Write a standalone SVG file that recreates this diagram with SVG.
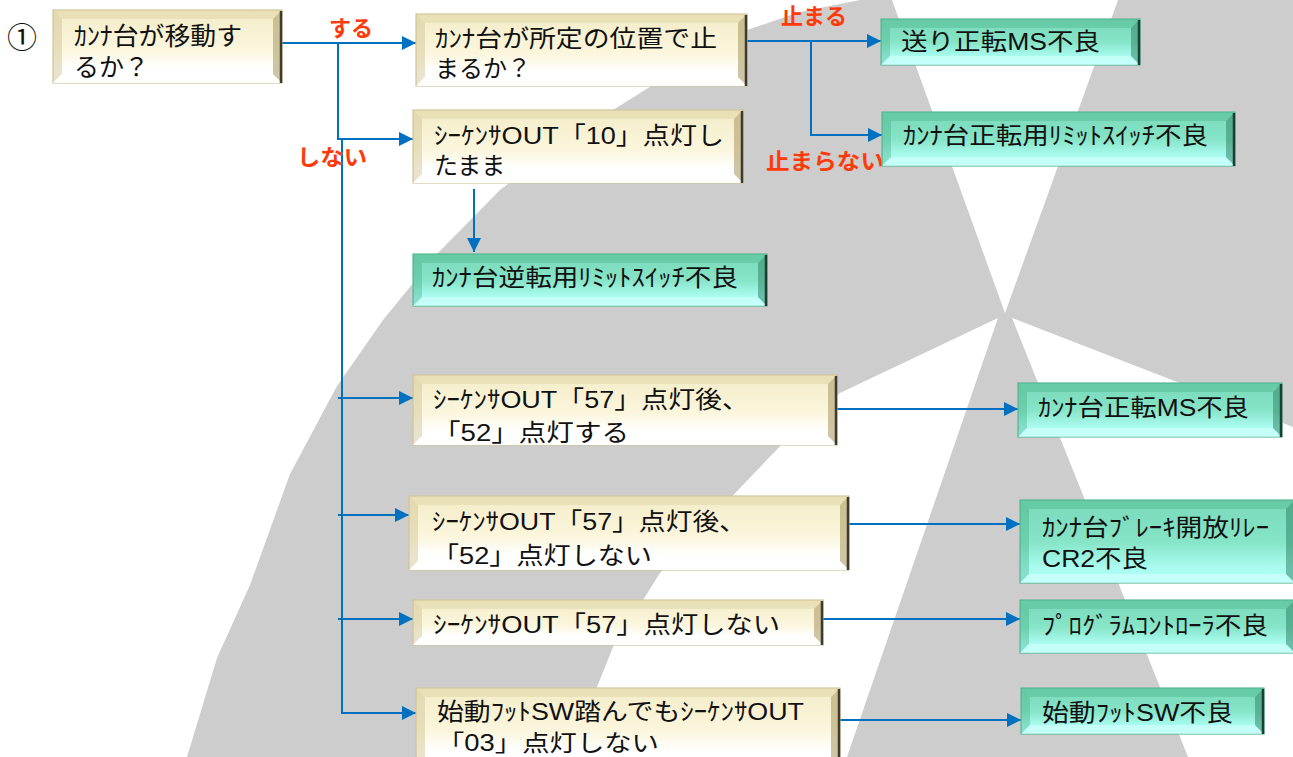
<svg xmlns="http://www.w3.org/2000/svg" width="1293" height="757" viewBox="0 0 1293 757">
<defs>
<style>
.t{font-family:"Liberation Sans","Noto Sans CJK JP",sans-serif;font-size:24px;fill:#111}
.lbl{font-family:"Liberation Sans","Noto Sans CJK JP",sans-serif;font-size:22px;font-weight:bold;fill:#FF3A0A}
.ca{fill:none;stroke:#0070C0;stroke-width:2;marker-end:url(#ah)}
.cr-o{fill:url(#gCream);stroke:#CFC59A;stroke-width:1.2}
.cr-t{fill:#D8CC9C;opacity:.4}
.cr-l{fill:#CFC291;opacity:.45}
.cr-r{fill:#B3A673;opacity:.65}
.cr-b{fill:#FFFFFF;opacity:.9}
.cr-s{stroke:#3E3B2E;stroke-width:2.5}
.tl-o{fill:url(#gTeal);stroke:#5DB895;stroke-width:1.2}
.tl-t{fill:#46B088;opacity:.35}
.tl-l{fill:#3FA57F;opacity:.35}
.tl-r{fill:#2A7E5F;opacity:.5}
.tl-b{fill:#D4FFFB;opacity:.6}
.tl-s{stroke:#1B3F32;stroke-width:2.5}
</style>
<linearGradient id="gCream" x1="0" y1="0" x2="0" y2="1">
<stop offset="0" stop-color="#F4ECC8"/>
<stop offset="0.55" stop-color="#FBF6DD"/>
<stop offset="0.8" stop-color="#FFFFFF"/>
<stop offset="1" stop-color="#FFFFFF"/>
</linearGradient>
<linearGradient id="gTeal" x1="0" y1="0" x2="0" y2="1">
<stop offset="0" stop-color="#78D9B8"/>
<stop offset="0.5" stop-color="#86E4C7"/>
<stop offset="0.8" stop-color="#A8FBEE"/>
<stop offset="1" stop-color="#B2FFF7"/>
</linearGradient>
<marker id="ah" viewBox="0 0 10 10" refX="10" refY="5" markerWidth="15" markerHeight="14" markerUnits="userSpaceOnUse" orient="auto">
<path d="M0,0 L10,5 L0,10 Z" fill="#0070C0"/>
</marker>
</defs>

<g id="background">
<rect width="1293" height="757" fill="#FFFFFF"/>
<path d="M187,757 L217,658 L250,585 L290,474 L337,386 L383,320 L437,254 L500,190 L560,145 L613,110 L680,68 L747,30 L800,12 L860,0 L1293,0 L1293,757 Z" fill="#CDCDCD"/>
<polygon points="892,0 1118,0 1005,313" fill="#FFFFFF"/>
<polygon points="1012,318 1293,427 1293,757 1188,757" fill="#FFFFFF"/>
<polygon points="998,318 840,393 786,440 740,488 660,573 643,600 613,647 597,687 577,757 847,757" fill="#FFFFFF"/>
</g>

<text class="t" x="7" y="48" style="font-size:30px">①</text>

<g id="connectors">
<line class="ca" x1="282" y1="43" x2="416" y2="43"/>
<polyline class="ca" points="338,43 338,139 413,139"/>
<polyline class="ca" points="342,140 342,713 416,713"/>
<line class="ca" x1="338" y1="398" x2="413" y2="398"/>
<line class="ca" x1="338" y1="515" x2="409" y2="515"/>
<line class="ca" x1="338" y1="619" x2="413" y2="619"/>
<line class="ca" x1="474" y1="189" x2="474" y2="252"/>
<line class="ca" x1="747" y1="41" x2="881" y2="41"/>
<polyline class="ca" points="811,41 811,135 882,135"/>
<line class="ca" x1="837" y1="409" x2="1018" y2="409"/>
<line class="ca" x1="849" y1="524" x2="1020" y2="524"/>
<line class="ca" x1="823" y1="619" x2="1020" y2="619"/>
<line class="ca" x1="840" y1="720" x2="1021" y2="720"/>
</g>

<g id="labels">
<text class="lbl" x="329" y="36">する</text>
<text class="lbl" x="297" y="165" textLength="70" lengthAdjust="spacingAndGlyphs">しない</text>
<text class="lbl" x="781" y="24">止まる</text>
<text class="lbl" x="766" y="169" textLength="118" lengthAdjust="spacingAndGlyphs">止まらない</text>
</g>

<g id="n1">
<rect class="cr-o" x="53" y="10" width="229" height="73"/>
<polygon class="cr-t" points="53,10 282,10 273,19 62,19"/>
<polygon class="cr-l" points="53,10 62,19 62,74 53,83"/>
<polygon class="cr-b" points="53,83 62,74 273,74 282,83"/>
<polygon class="cr-r" points="282,10 282,83 273,74 273,19"/>
<line class="cr-s" x1="281" y1="11" x2="281" y2="83"/>
<text class="t" style="font-size:25px"><tspan x="74" y="45" textLength="168" lengthAdjust="spacingAndGlyphs">ｶﾝﾅ台が移動す</tspan><tspan x="74" y="76">るか？</tspan></text>
</g>

<g id="n2">
<rect class="cr-o" x="416" y="14" width="331" height="72"/>
<polygon class="cr-t" points="416,14 747,14 738,23 425,23"/>
<polygon class="cr-l" points="416,14 425,23 425,77 416,86"/>
<polygon class="cr-b" points="416,86 425,77 738,77 747,86"/>
<polygon class="cr-r" points="747,14 747,86 738,77 738,23"/>
<line class="cr-s" x1="746" y1="15" x2="746" y2="86"/>
<text class="t"><tspan x="435" y="47" textLength="282" lengthAdjust="spacingAndGlyphs">ｶﾝﾅ台が所定の位置で止</tspan><tspan x="435" y="77">まるか？</tspan></text>
</g>

<g id="n3">
<rect class="cr-o" x="413" y="110" width="330" height="73"/>
<polygon class="cr-t" points="413,110 743,110 734,119 422,119"/>
<polygon class="cr-l" points="413,110 422,119 422,174 413,183"/>
<polygon class="cr-b" points="413,183 422,174 734,174 743,183"/>
<polygon class="cr-r" points="743,110 743,183 734,174 734,119"/>
<line class="cr-s" x1="742" y1="111" x2="742" y2="183"/>
<text class="t"><tspan x="434" y="144" textLength="290" lengthAdjust="spacingAndGlyphs">ｼｰｹﾝｻOUT「10」点灯し</tspan><tspan x="434" y="174">たまま</tspan></text>
</g>

<g id="n4">
<rect class="tl-o" x="881" y="19" width="259" height="46"/>
<polygon class="tl-t" points="881,19 1140,19 1131,28 890,28"/>
<polygon class="tl-l" points="881,19 890,28 890,56 881,65"/>
<polygon class="tl-b" points="881,65 890,56 1131,56 1140,65"/>
<polygon class="tl-r" points="1140,19 1140,65 1131,56 1131,28"/>
<line class="tl-s" x1="1139" y1="20" x2="1139" y2="65"/>
<text class="t" x="901" y="50" textLength="199" lengthAdjust="spacingAndGlyphs">送り正転MS不良</text>
</g>

<g id="n5">
<rect class="tl-o" x="882" y="112" width="353" height="54"/>
<polygon class="tl-t" points="882,112 1235,112 1226,121 891,121"/>
<polygon class="tl-l" points="882,112 891,121 891,157 882,166"/>
<polygon class="tl-b" points="882,166 891,157 1226,157 1235,166"/>
<polygon class="tl-r" points="1235,112 1235,166 1226,157 1226,121"/>
<line class="tl-s" x1="1234" y1="113" x2="1234" y2="166"/>
<text class="t" x="903" y="144" textLength="305" lengthAdjust="spacingAndGlyphs">ｶﾝﾅ台正転用ﾘﾐｯﾄｽｲｯﾁ不良</text>
</g>

<g id="n6">
<rect class="tl-o" x="413" y="254" width="354" height="52"/>
<polygon class="tl-t" points="413,254 767,254 758,263 422,263"/>
<polygon class="tl-l" points="413,254 422,263 422,297 413,306"/>
<polygon class="tl-b" points="413,306 422,297 758,297 767,306"/>
<polygon class="tl-r" points="767,254 767,306 758,297 758,263"/>
<line class="tl-s" x1="766" y1="255" x2="766" y2="306"/>
<text class="t" x="432" y="286" textLength="306" lengthAdjust="spacingAndGlyphs">ｶﾝﾅ台逆転用ﾘﾐｯﾄｽｲｯﾁ不良</text>
</g>

<g id="n7">
<rect class="cr-o" x="413" y="375" width="424" height="70"/>
<polygon class="cr-t" points="413,375 837,375 828,384 422,384"/>
<polygon class="cr-l" points="413,375 422,384 422,436 413,445"/>
<polygon class="cr-b" points="413,445 422,436 828,436 837,445"/>
<polygon class="cr-r" points="837,375 837,445 828,436 828,384"/>
<line class="cr-s" x1="836" y1="376" x2="836" y2="445"/>
<text class="t"><tspan x="433" y="408" textLength="316" lengthAdjust="spacingAndGlyphs">ｼｰｹﾝｻOUT「57」点灯後、</tspan><tspan x="433" y="441" textLength="196" lengthAdjust="spacingAndGlyphs">「52」点灯する</tspan></text>
</g>

<g id="n8">
<rect class="cr-o" x="409" y="496" width="440" height="74"/>
<polygon class="cr-t" points="409,496 849,496 840,505 418,505"/>
<polygon class="cr-l" points="409,496 418,505 418,561 409,570"/>
<polygon class="cr-b" points="409,570 418,561 840,561 849,570"/>
<polygon class="cr-r" points="849,496 849,570 840,561 840,505"/>
<line class="cr-s" x1="848" y1="497" x2="848" y2="570"/>
<text class="t"><tspan x="432" y="530" textLength="314" lengthAdjust="spacingAndGlyphs">ｼｰｹﾝｻOUT「57」点灯後、</tspan><tspan x="432" y="564" textLength="220" lengthAdjust="spacingAndGlyphs">「52」点灯しない</tspan></text>
</g>

<g id="n9">
<rect class="cr-o" x="413" y="600" width="410" height="45"/>
<polygon class="cr-t" points="413,600 823,600 814,609 422,609"/>
<polygon class="cr-l" points="413,600 422,609 422,636 413,645"/>
<polygon class="cr-b" points="413,645 422,636 814,636 823,645"/>
<polygon class="cr-r" points="823,600 823,645 814,636 814,609"/>
<line class="cr-s" x1="822" y1="601" x2="822" y2="645"/>
<text class="t" x="433" y="633" textLength="347" lengthAdjust="spacingAndGlyphs">ｼｰｹﾝｻOUT「57」点灯しない</text>
</g>

<g id="n10">
<rect class="cr-o" x="416" y="688" width="424" height="78"/>
<polygon class="cr-t" points="416,688 840,688 831,697 425,697"/>
<polygon class="cr-l" points="416,688 425,697 425,757 416,766"/>
<polygon class="cr-r" points="840,688 840,766 831,757 831,697"/>
<line class="cr-s" x1="839" y1="689" x2="839" y2="766"/>
<text class="t"><tspan x="437" y="720" textLength="367" lengthAdjust="spacingAndGlyphs">始動ﾌｯﾄSW踏んでもｼｰｹﾝｻOUT</tspan><tspan x="437" y="751" style="font-size:23px" textLength="222" lengthAdjust="spacingAndGlyphs">「03」点灯しない</tspan></text>
</g>

<g id="n11">
<rect class="tl-o" x="1018" y="383" width="264" height="54"/>
<polygon class="tl-t" points="1018,383 1282,383 1273,392 1027,392"/>
<polygon class="tl-l" points="1018,383 1027,392 1027,428 1018,437"/>
<polygon class="tl-b" points="1018,437 1027,428 1273,428 1282,437"/>
<polygon class="tl-r" points="1282,383 1282,437 1273,428 1273,392"/>
<line class="tl-s" x1="1281" y1="384" x2="1281" y2="437"/>
<text class="t" x="1038" y="416" textLength="211" lengthAdjust="spacingAndGlyphs">ｶﾝﾅ台正転MS不良</text>
</g>

<g id="n12">
<rect class="tl-o" x="1020" y="500" width="275" height="83"/>
<polygon class="tl-t" points="1020,500 1295,500 1286,509 1029,509"/>
<polygon class="tl-l" points="1020,500 1029,509 1029,574 1020,583"/>
<polygon class="tl-b" points="1020,583 1029,574 1286,574 1295,583"/>
<polygon class="tl-r" points="1295,500 1295,583 1286,574 1286,509"/>
<text class="t"><tspan x="1042" y="536" textLength="227" lengthAdjust="spacingAndGlyphs">ｶﾝﾅ台ﾌﾞﾚｰｷ開放ﾘﾚｰ</tspan><tspan x="1042" y="567" textLength="106" lengthAdjust="spacingAndGlyphs">CR2不良</tspan></text>
</g>

<g id="n13">
<rect class="tl-o" x="1020" y="600" width="275" height="53"/>
<polygon class="tl-t" points="1020,600 1295,600 1286,609 1029,609"/>
<polygon class="tl-l" points="1020,600 1029,609 1029,644 1020,653"/>
<polygon class="tl-b" points="1020,653 1029,644 1286,644 1295,653"/>
<polygon class="tl-r" points="1295,600 1295,653 1286,644 1286,609"/>
<text class="t" x="1042" y="634" textLength="226" lengthAdjust="spacingAndGlyphs">ﾌﾟﾛｸﾞﾗﾑｺﾝﾄﾛｰﾗ不良</text>
</g>

<g id="n14">
<rect class="tl-o" x="1021" y="688" width="243" height="46"/>
<polygon class="tl-t" points="1021,688 1264,688 1255,697 1030,697"/>
<polygon class="tl-l" points="1021,688 1030,697 1030,725 1021,734"/>
<polygon class="tl-b" points="1021,734 1030,725 1255,725 1264,734"/>
<polygon class="tl-r" points="1264,688 1264,734 1255,725 1255,697"/>
<line class="tl-s" x1="1263" y1="689" x2="1263" y2="734"/>
<text class="t" x="1042" y="721" textLength="191" lengthAdjust="spacingAndGlyphs">始動ﾌｯﾄSW不良</text>
</g>
</svg>
